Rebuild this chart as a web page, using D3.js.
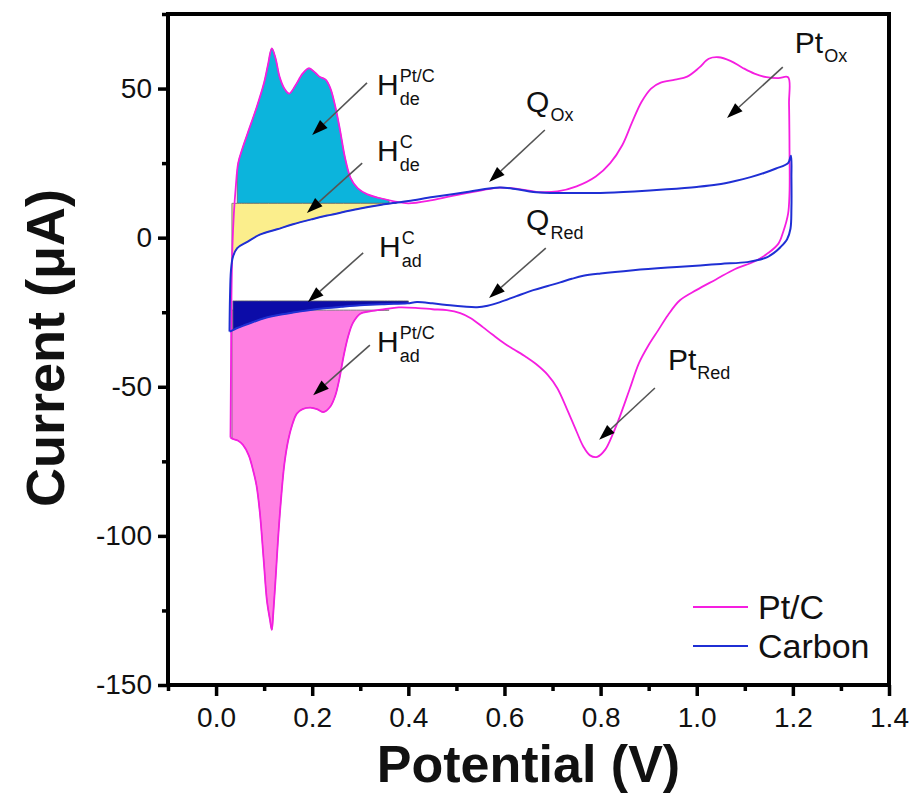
<!DOCTYPE html>
<html><head><meta charset="utf-8">
<script src="https://cdn.jsdelivr.net/npm/d3@7"></script>
<style>
body{margin:0;background:#fff;}
svg{display:block;font-family:"Liberation Sans",Arial,sans-serif;}
</style></head><body>
<svg id="chart" width="916" height="798"></svg>
<script>
// ---------- DATA ----------
const ptcAnodic = [[0.030,-67],[0.031,-45],[0.032,-20],[0.034,-3],[0.037,8],[0.041,17],[0.046,25],[0.055,30],[0.07,37],[0.085,44],[0.1,52],[0.108,58],[0.116,63.5],[0.124,60],[0.132,54],[0.142,50],[0.152,48.3],[0.165,51],[0.18,55],[0.193,56.8],[0.205,55.5],[0.215,54],[0.228,53],[0.238,50],[0.248,44],[0.258,36],[0.268,27],[0.28,20],[0.295,16.5],[0.315,14.5],[0.34,13.3],[0.37,12.2],[0.4,11.5],[0.45,12.6],[0.5,14.3],[0.55,15.8],[0.59,16.8],[0.63,16.3],[0.67,15.3],[0.71,15.5],[0.75,17.2],[0.79,20.5],[0.82,25],[0.845,31],[0.865,38.5],[0.885,45.5],[0.905,50],[0.925,52],[0.955,53],[0.98,54],[1.005,57],[1.025,60],[1.045,60.5],[1.07,59.3],[1.095,57],[1.12,55],[1.145,53.8],[1.17,53.5],[1.19,53.8],[1.192,45],[1.193,30],[1.193,15]];
const ptcCathodic = [[1.19,8],[1.18,2],[1.17,-2],[1.15,-5],[1.12,-8],[1.08,-10.5],[1.04,-14],[1.0,-17.5],[0.965,-21],[0.94,-26],[0.92,-31],[0.9,-36],[0.88,-42],[0.86,-51],[0.84,-60],[0.825,-66],[0.81,-71],[0.793,-73.5],[0.778,-73],[0.764,-70],[0.75,-65],[0.73,-57.5],[0.71,-50.5],[0.69,-46],[0.665,-42.3],[0.645,-40],[0.62,-37.5],[0.6,-35.5],[0.575,-32.5],[0.555,-30],[0.53,-27],[0.508,-25.3],[0.48,-24.3],[0.45,-24],[0.42,-23.6],[0.38,-23.4],[0.35,-24],[0.32,-24.7],[0.3,-25.5],[0.285,-28.5],[0.275,-33],[0.265,-40],[0.257,-47],[0.248,-53],[0.237,-56.8],[0.223,-58.5],[0.21,-57.5],[0.196,-57],[0.18,-57.5],[0.168,-59],[0.158,-63],[0.15,-68],[0.142,-76],[0.135,-88],[0.129,-101],[0.124,-114],[0.119,-126],[0.116,-131.5],[0.112,-128],[0.106,-122],[0.099,-108],[0.091,-92],[0.084,-83],[0.077,-78],[0.068,-73],[0.056,-69.5],[0.045,-68],[0.035,-67.5],[0.030,-67]];
const carbonAnodic = [[0.028,-31.5],[0.029,-20],[0.031,-11],[0.035,-6.5],[0.044,-3.5],[0.064,-1.5],[0.091,1],[0.127,2.8],[0.16,4.5],[0.2,6.2],[0.231,7.4],[0.265,8.6],[0.3,9.8],[0.335,10.8],[0.368,11.6],[0.4,12.3],[0.451,13.6],[0.522,15.3],[0.59,16.8],[0.626,16.2],[0.66,15.3],[0.695,15],[0.75,15],[0.8,15],[0.87,15.5],[0.938,16.2],[1.0,17],[1.043,17.8],[1.08,19],[1.112,20.3],[1.14,21.7],[1.165,23.2],[1.19,25],[1.196,27.5]];
const carbonCathodic = [[1.197,20],[1.197,10],[1.195,3],[1.188,-0.5],[1.174,-3.2],[1.16,-5.2],[1.147,-6.5],[1.125,-7.6],[1.105,-8.2],[1.05,-8.8],[1.007,-9.3],[0.94,-10],[0.868,-10.9],[0.8,-12],[0.764,-12.8],[0.74,-13.8],[0.716,-15],[0.69,-16.2],[0.66,-17.6],[0.625,-19.6],[0.591,-21.6],[0.565,-22.8],[0.543,-23.3],[0.515,-23.1],[0.487,-22.7],[0.45,-22],[0.418,-21.6],[0.398,-22],[0.35,-22.3],[0.3,-22.7],[0.26,-23.2],[0.231,-23.6],[0.189,-24.4],[0.16,-25.1],[0.127,-26],[0.1,-27],[0.077,-28.3],[0.06,-29.3],[0.044,-30.3],[0.035,-31],[0.028,-31.5]];

const xMajorTicks = [0.0,0.2,0.4,0.6,0.8,1.0,1.2,1.4];
const xMinorTicks = [-0.1,0.1,0.3,0.5,0.7,0.9,1.1,1.3];
const yMajorTicks = [-150,-100,-50,0,50];
const yMinorTicks = [-125,-75,-25,25,75];

// shaded charge regions: curve, x-range, baseline
const fillNames = ["HadPtC","HadC","HdePtC","HdeC"];
const fillColors = ["#ff7fe2","#0c0ca8","#0cb4dc","#fbee8c"];
const fillCurves = [ptcCathodic, carbonCathodic, ptcAnodic, carbonAnodic];
const fillRanges = [[0.033,0.36],[0.035,0.40],[0.044,0.36],[0.033,0.375]];
const fillBases = [-24.3,-21.2,11.5,11.5];
const fillSides = ["below","below","above","below"];

// annotations
const annMain = ["H","H","H","H","Q","Q","Pt","Pt"];
const annSup  = ["Pt/C","C","C","Pt/C","","","",""];
const annSub  = ["de","de","ad","ad","Ox","Red","Ox","Red"];
const annPos  = [[0.335,47.8],[0.335,25.7],[0.339,-6.5],[0.335,-38.3],[0.645,42.1],[0.645,2.6],[1.204,61.9],[0.940,-44.4]];
const arrowFrom = [[0.314,51.9],[0.304,25.0],[0.306,-5.1],[0.320,-36.0],[0.684,36.1],[0.686,-3.5],[1.179,57.2],[0.913,-50.4]];
const arrowTo   = [[0.200,34.4],[0.189,8.3],[0.191,-21.6],[0.202,-52.8],[0.568,18.7],[0.568,-20.2],[1.063,40.1],[0.797,-67.8]];

const seriesNames = ["Pt/C","Carbon"];
const seriesColors = ["#f51ee0","#1f2fd4"];

// ---------- CHART ----------
const W=916,H=798, m={left:168,right:27,top:14,bottom:113};
const svg=d3.select("#chart");
const x=d3.scaleLinear().domain([-0.1,1.4]).range([m.left,W-m.right]);
const y=d3.scaleLinear().domain([-150,75]).range([H-m.bottom,m.top]);

const curve=d3.curveCatmullRom.alpha(0.5);

function segment(pts,x0,x1){
  const s=pts.slice().sort((a,b)=>a[0]-b[0]);
  const f=p=>{for(let i=0;i<s.length-1;i++){if(s[i][0]<=p&&s[i+1][0]>=p){const t=(p-s[i][0])/((s[i+1][0]-s[i][0])||1);return s[i][1]+t*(s[i+1][1]-s[i][1]);}}return s[s.length-1][1];};
  const out=[[x0,f(x0)]];
  s.forEach(p=>{if(p[0]>x0&&p[0]<x1)out.push(p);});
  out.push([x1,f(x1)]);
  return out;
}

// fills
const gFill=svg.append("g");
fillNames.forEach((n,i)=>{
  const seg=segment(fillCurves[i],fillRanges[i][0],fillRanges[i][1]);
  const b=fillBases[i];
  const clamp=fillSides[i]==="above"?(v=>Math.max(v,b)):(v=>Math.min(v,b));
  const area=d3.area().curve(curve).x(d=>x(d[0])).y0(y(b)).y1(d=>y(clamp(d[1])));
  gFill.append("path").attr("d",area(seg)).attr("fill",fillColors[i])
    .attr("stroke","#666").attr("stroke-width",0.8);
});

// curves
const line=d3.line().curve(curve).x(d=>x(d[0])).y(d=>y(d[1]));
svg.append("path").attr("d",line(ptcAnodic.concat(ptcCathodic))).attr("fill","none")
  .attr("stroke",seriesColors[0]).attr("stroke-width",1.8);
svg.append("path").attr("d",line(carbonAnodic.concat(carbonCathodic))).attr("fill","none")
  .attr("stroke",seriesColors[1]).attr("stroke-width",2);

// arrows
const gArr=svg.append("g");
arrowFrom.forEach((f,i)=>{
  const x1=x(f[0]),y1=y(f[1]),x2=x(arrowTo[i][0]),y2=y(arrowTo[i][1]);
  const ang=Math.atan2(y2-y1,x2-x1), L=16, Wd=5.5;
  const bx=x2-L*Math.cos(ang), by=y2-L*Math.sin(ang);
  gArr.append("line").attr("x1",x1).attr("y1",y1).attr("x2",bx).attr("y2",by)
    .attr("stroke","#555").attr("stroke-width",1.6);
  const px=-Math.sin(ang)*Wd, py=Math.cos(ang)*Wd;
  gArr.append("path").attr("d",`M${x2},${y2}L${bx+px},${by+py}L${bx-px},${by-py}Z`).attr("fill","#000");
});

// annotation labels
const gLab=svg.append("g").attr("fill","#111");
annMain.forEach((t,i)=>{
  const px=x(annPos[i][0]), py=y(annPos[i][1]);
  const tm=gLab.append("text").attr("x",px).attr("y",py).attr("font-size",30).text(t);
  const w=tm.node().getComputedTextLength();
  if(annSup[i]) gLab.append("text").attr("x",px+w+1).attr("y",py-13).attr("font-size",18).text(annSup[i]);
  gLab.append("text").attr("x",px+w+1).attr("y",py+(annSup[i]?10:9)).attr("font-size",18).text(annSub[i]);
});

// axes
const fmt=d3.format(".1f");
const gx=svg.append("g").attr("transform",`translate(0,${H-m.bottom})`)
  .call(d3.axisBottom(x).tickValues(xMajorTicks).tickSize(11).tickPadding(11).tickFormat(fmt));
const gxm=svg.append("g").attr("transform",`translate(0,${H-m.bottom})`)
  .call(d3.axisBottom(x).tickValues(xMinorTicks).tickSize(6).tickFormat(""));
const gy=svg.append("g").attr("transform",`translate(${m.left},0)`)
  .call(d3.axisLeft(y).tickValues(yMajorTicks).tickSize(10).tickPadding(6).tickFormat(d=>String(d)));
const gym=svg.append("g").attr("transform",`translate(${m.left},0)`)
  .call(d3.axisLeft(y).tickValues(yMinorTicks).tickSize(6).tickFormat(""));
[gx,gxm,gy,gym].forEach(g=>{
  g.select(".domain").remove();
  g.selectAll(".tick line").attr("stroke","#000").attr("stroke-width",3.5);
  g.selectAll(".tick text").attr("font-size",28).attr("fill","#111").attr("font-family","Liberation Sans, Arial, sans-serif");
});

// frame
svg.append("rect").attr("x",m.left).attr("y",m.top).attr("width",W-m.left-m.right).attr("height",H-m.top-m.bottom)
  .attr("fill","none").attr("stroke","#000").attr("stroke-width",4);

// titles
svg.append("text").attr("x",(m.left+W-m.right)/2).attr("y",782).attr("text-anchor","middle")
  .attr("font-size",52).attr("font-weight","bold").attr("fill","#111").text("Potential (V)");
svg.append("text").attr("transform","translate(64,348) rotate(-90)").attr("text-anchor","middle")
  .attr("font-size",54).attr("font-weight","bold").attr("fill","#111").text("Current (\u03bcA)");

// legend
const gLeg=svg.append("g");
seriesNames.forEach((n,i)=>{
  const ly=607+i*39;
  gLeg.append("line").attr("x1",693).attr("x2",748).attr("y1",ly).attr("y2",ly)
    .attr("stroke",seriesColors[i]).attr("stroke-width",1.8);
  gLeg.append("text").attr("x",758).attr("y",ly+12).attr("font-size",34).attr("fill","#111").text(n);
});
</script></body></html>
